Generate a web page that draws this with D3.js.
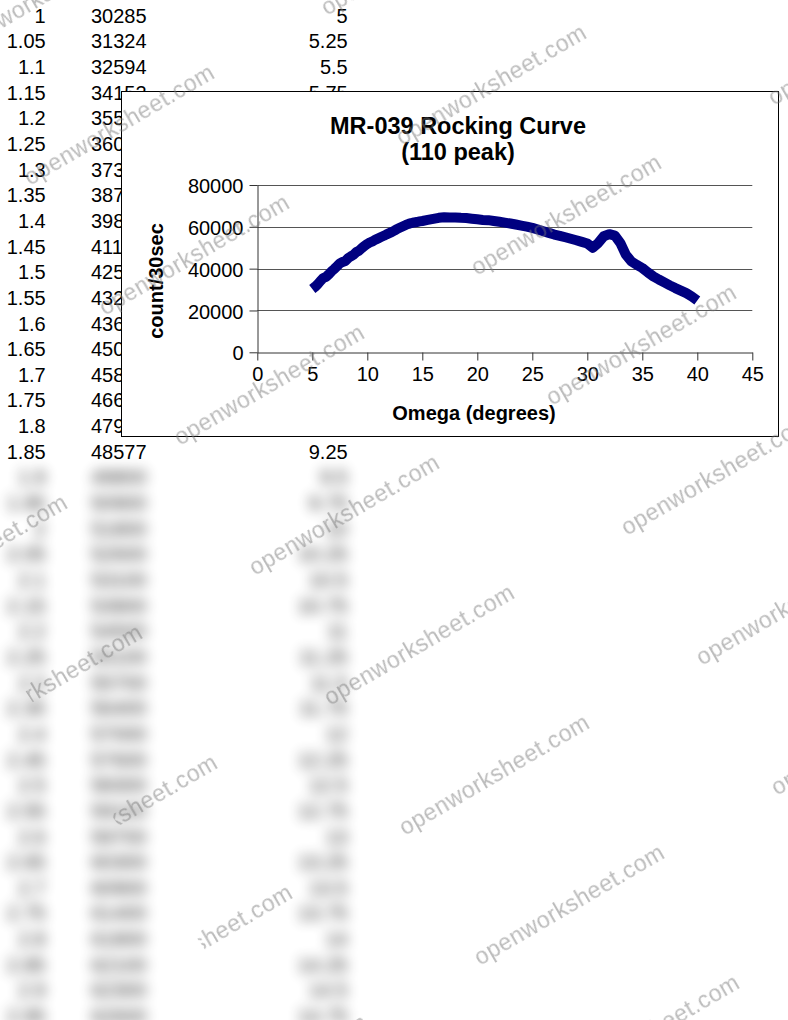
<!DOCTYPE html>
<html>
<head>
<meta charset="utf-8">
<script src="https://cdn.jsdelivr.net/npm/d3@7"></script>
<style>
  body { margin: 0; background: #fff; }
  svg { display: block; }
</style>
</head>
<body>
<div id="chart"></div>
<script>
const omega = [
  5, 5.25, 5.5, 5.75, 6, 6.25, 6.5, 6.75, 7, 7.25, 7.5, 7.75, 8, 8.25, 8.5, 8.75, 9, 9.25,
  9.5, 9.75, 10, 10.25, 10.5, 10.75, 11, 11.25, 11.5, 11.75, 12, 12.25, 12.5, 12.75,
  13, 13.25, 13.5, 13.75, 14, 14.25, 14.5, 14.75,
  15, 15.5, 16, 16.5, 17, 17.5, 18, 18.5, 19, 19.5, 20, 20.5, 21, 21.5, 22, 22.5,
  23, 23.5, 24, 24.5, 25, 25.5, 26, 26.5, 27, 27.5, 28, 28.5, 29, 29.5, 30, 30.5,
  31, 31.5, 32, 32.5, 33, 33.5, 34, 34.5, 35, 35.5, 36, 36.5, 37, 37.5, 38, 38.5,
  39, 39.5, 40
];
const counts = [
  30285, 31324, 32594, 34152, 35520, 36080, 37310, 38740, 39860, 41150, 42530, 43210,
  43690, 45020, 45870, 46640, 47930, 48577,
  49800, 50900, 51800, 52600, 53100, 53900, 54500, 55100, 55700, 56400, 57000, 57600,
  58300, 59100, 59700, 60300, 60900, 61400, 61800, 62100, 62300, 62600,
  62800, 63300, 63800, 64300, 64600, 64500, 64500, 64300, 64200, 63900, 63600, 63300,
  63200, 62800, 62400, 62000, 61600, 61100, 60600, 60100, 59500, 58700, 57900, 57100,
  56300, 55700, 55000, 54300, 53600, 52800, 52000, 50000, 52300, 55500, 56500, 55800,
  52300, 46700, 43500, 41800, 40300, 38200, 36300, 34800, 33400, 32000, 30700, 29500,
  28300, 26700, 24800
];
// first column of the sheet (step index), clear rows then blurred rows
const stepLabels = [
  "1", "1.05", "1.1", "1.15", "1.2", "1.25", "1.3", "1.35", "1.4", "1.45", "1.5",
  "1.55", "1.6", "1.65", "1.7", "1.75", "1.8", "1.85",
  "1.9", "1.95", "2", "2.05", "2.1", "2.15", "2.2", "2.25", "2.3", "2.35", "2.4",
  "2.45", "2.5", "2.55", "2.6", "2.65", "2.7", "2.75", "2.8", "2.85", "2.9", "2.95"
];
const clearRows = 18;

const xTicks = [0, 5, 10, 15, 20, 25, 30, 35, 40, 45];
const yTicks = [0, 20000, 40000, 60000, 80000];

const W = 788, H = 1020;
const svg = d3.select("#chart").append("svg")
  .attr("width", W).attr("height", H);

svg.append("rect").attr("width", W).attr("height", H).attr("fill", "#fff");

var defs = svg.append("defs");
defs.append("filter").attr("id", "blurCells")
  .attr("x", "-50%").attr("y", "-100%").attr("width", "200%").attr("height", "300%")
  .append("feGaussianBlur").attr("stdDeviation", 6.5);

// the watermark does not show on the lower-left corner of the sheet
var wmMask = defs.append("mask").attr("id", "wmMask")
  .attr("maskUnits", "userSpaceOnUse")
  .attr("x", 0).attr("y", 0).attr("width", W).attr("height", H);
wmMask.append("rect").attr("width", W).attr("height", H).attr("fill", "#fff");
wmMask.append("polygon")
  .attr("points", "0,655 254,1020 0,1020")
  .attr("fill", "#000");

// ---- the worksheet behind the chart
var rowY = function (i) { return 22.7 + 25.65 * i; };
var fmtCol3 = d3.format("~g");

var sheet = svg.append("g")
  .attr("font-family", "Arial, 'Liberation Sans', sans-serif")
  .attr("font-size", "20px")
  .attr("fill", "#000");

var blurred = sheet.append("g")
  .attr("filter", "url(#blurCells)")
  .attr("opacity", 0.85);

stepLabels.forEach(function (lab, i) {
  var g = i < clearRows ? sheet : blurred;
  g.append("text").attr("x", 45.7).attr("y", rowY(i))
    .attr("text-anchor", "end").text(lab);
  g.append("text").attr("x", 91).attr("y", rowY(i))
    .text(counts[i]);
  g.append("text").attr("x", 347.7).attr("y", rowY(i))
    .attr("text-anchor", "end").text(fmtCol3(omega[i]));
});

// ---- chart area
svg.append("rect")
  .attr("x", 121.5).attr("y", 91.5)
  .attr("width", 657).attr("height", 345)
  .attr("fill", "#fff")
  .attr("stroke", "#000").attr("stroke-width", 1);

var xScale = d3.scaleLinear().domain([0, 45]).range([257.3, 752.3]);
var yScale = d3.scaleLinear().domain([0, 80000]).range([352.3, 185]);

var chart = svg.append("g")
  .attr("font-family", "Arial, 'Liberation Sans', sans-serif");

// gridlines
chart.append("g")
  .selectAll("line")
  .data(yTicks.filter(function (d) { return d > 0; }))
  .enter()
  .append("line")
  .attr("x1", xScale(0)).attr("x2", xScale(45))
  .attr("y1", function (d) { return Math.round(yScale(d)) + 0.5; })
  .attr("y2", function (d) { return Math.round(yScale(d)) + 0.5; })
  .attr("stroke", "#555").attr("stroke-width", 1);

var xAxis = chart.append("g")
  .attr("transform", "translate(0," + (Math.round(yScale(0)) + 0.5) + ")")
  .call(d3.axisBottom(xScale).tickValues(xTicks).tickSize(8).tickSizeOuter(0).tickPadding(6));

var yAxis = chart.append("g")
  .attr("transform", "translate(" + (Math.round(xScale(0)) + 0.5) + ",0)")
  .call(d3.axisLeft(yScale).tickValues(yTicks).tickFormat(d3.format("d"))
    .tickSize(8).tickSizeOuter(0).tickPadding(6));

[xAxis, yAxis].forEach(function (ax) {
  ax.attr("font-family", "Arial, 'Liberation Sans', sans-serif").attr("font-size", "20px");
  ax.selectAll("path, line").attr("stroke", "#333");
  ax.selectAll("text").attr("fill", "#000");
});
yAxis.selectAll("text").attr("dy", "0.38em");

// the rocking curve
var line = d3.line()
  .x(function (d, i) { return xScale(omega[i]); })
  .y(function (d) { return yScale(d); });

chart.append("path")
  .datum(counts)
  .attr("d", line)
  .attr("fill", "none")
  .attr("stroke", "#000080")
  .attr("stroke-width", 10)
  .attr("stroke-linejoin", "round")
  .attr("stroke-linecap", "butt");

// titles
chart.append("text")
  .attr("x", 458).attr("y", 134)
  .attr("text-anchor", "middle")
  .attr("font-size", "23.5px").attr("font-weight", "bold")
  .text("MR-039 Rocking Curve");
chart.append("text")
  .attr("x", 458).attr("y", 160)
  .attr("text-anchor", "middle")
  .attr("font-size", "23.5px").attr("font-weight", "bold")
  .text("(110 peak)");

chart.append("text")
  .attr("x", 474).attr("y", 420)
  .attr("text-anchor", "middle")
  .attr("font-size", "20px").attr("font-weight", "bold")
  .text("Omega (degrees)");

chart.append("text")
  .attr("transform", "translate(163,281) rotate(-90)")
  .attr("text-anchor", "middle")
  .attr("font-size", "20px").attr("font-weight", "bold")
  .text("count/30sec");

// ---- watermark lattice laid over everything
var marks = svg.append("g")
  .attr("mask", "url(#wmMask)")
  .attr("font-family", "Arial, 'Liberation Sans', sans-serif")
  .attr("font-size", "23px")
  .attr("letter-spacing", "0.6px")
  .attr("fill", "#7a7a7a")
  .attr("fill-opacity", 0.5);

for (var i = -2; i <= 9; i++) {
  for (var j = -1; j <= 3; j++) {
    var sx = 30 + 75 * i + 297 * j,
      sy = 186 + 130 * i - 170 * j;
    if (sx > W + 20 || sy < -20 || sx < -260 || sy > H + 140) continue;
    marks.append("text")
      .attr("transform", "translate(" + sx + "," + sy + ") rotate(-30.3)")
      .text("openworksheet.com");
  }
}
</script>
</body>
</html>
